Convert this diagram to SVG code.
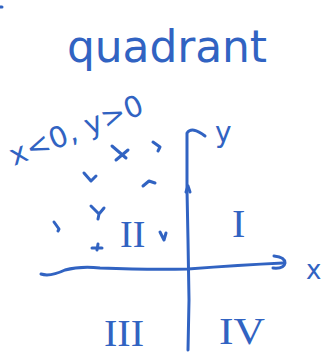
<svg xmlns="http://www.w3.org/2000/svg" width="328" height="357" viewBox="0 0 328 357">
<style>
.ink{fill:none;stroke:#3163C2;stroke-width:3;stroke-linecap:round;stroke-linejoin:round}
.hand{fill:#3163C2;font-family:"DejaVu Sans","Liberation Sans",sans-serif}
.rom{fill:#3163C2;font-family:"Liberation Serif",serif}
</style>
<rect width="328" height="357" fill="#fff"/>
<path class="ink" d="M0 7 L2 7"/>
<g id="title"><text class="hand" x="67" y="62" font-size="44" textLength="200" lengthAdjust="spacing">quadrant</text></g>
<g id="condition"><text class="hand" x="14" y="166" font-size="29" transform="rotate(-22 14 166)" textLength="142" lengthAdjust="spacing">x&lt;0, y&gt;0</text></g>
<g id="points">
<path class="ink" d="M112 146 L126 158 M128 150 L116 160"/>
<path class="ink" d="M153 142 L160 147 L158 151"/>
<path class="ink" d="M84 173 L91 181 L96 176"/>
<path class="ink" d="M143 186 L149 181 L155 183"/>
<path class="ink" d="M91 206 L99 214 L98 219 M99 214 L104 208"/>
<path class="ink" d="M54 222 L59 229 L58 231"/>
<path class="ink" d="M92 248 L102 248 M98 244 L97 250"/>
<path class="ink" d="M160 232 L164 240 L166 233"/>
</g>
<g id="connectors">
<path class="ink" d="M188 350 L189 300 L188 240 L187 190 L187 133 Q192 126 205 136"/>
<path class="ink" d="M186 192 L188 186 L190 192"/>
<path class="ink" d="M41 274 Q50 277 65 270 Q80 266 100 268 Q150 270 188 269 Q240 265 283 263"/>
<path class="ink" d="M274 256 Q285 257 285 263 Q284 269 273 268"/>
</g>
<g id="axis-y"><text class="hand" x="215" y="142" font-size="28">y</text></g>
<g id="axis-x"><text class="hand" x="306" y="279" font-size="26">x</text></g>
<g id="q1"><text class="rom" x="232" y="237" font-size="40">I</text></g>
<g id="q2"><text class="rom" x="120" y="247" font-size="38">II</text></g>
<g id="q3"><text class="rom" x="104" y="346" font-size="38" textLength="40" lengthAdjust="spacingAndGlyphs">III</text></g>
<g id="q4"><text class="rom" x="219" y="344" font-size="38" textLength="46" lengthAdjust="spacingAndGlyphs">IV</text></g>
</svg>
